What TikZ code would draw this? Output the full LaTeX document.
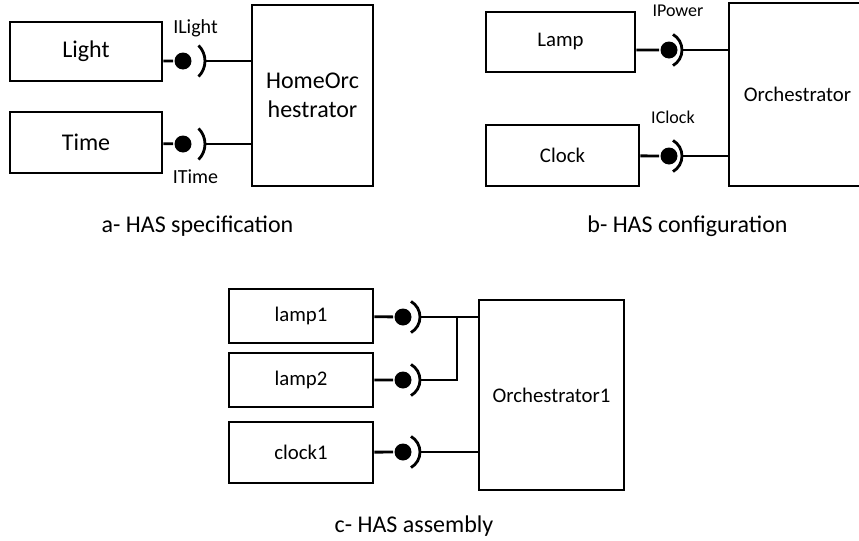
\documentclass[tikz,border=0pt]{standalone}
\usepackage{fontspec}
\setmainfont{Carlito}
\usetikzlibrary{positioning}

\begin{document}
\begin{tikzpicture}[x=0.5pt,y=-0.5pt,line width=1.4pt,
    comp/.style={draw,rectangle,inner sep=0pt,align=center},
    big/.style={font=\fontsize{12}{14.5}\selectfont},
    small/.style={font=\fontsize{10.4}{12.5}\selectfont},
    ball/.style={circle,fill=black,draw=none,minimum size=8.5pt,inner sep=0pt},
    iflabel/.style={inner sep=0pt},
    caption/.style={inner sep=0pt,anchor=base,font=\fontsize{12}{14}\selectfont}]
  \useasboundingbox (0,0) rectangle (859,541);

  % a- specification
  \node[comp,big,minimum width=76pt,minimum height=29.5pt] (light) at (86,51.5) {Light};
  \node[comp,big,minimum width=76pt,minimum height=30.5pt] (time) at (86,142.5) {Time};
  \node[comp,big,minimum width=60.5pt,minimum height=90.5pt] (home) at (312.5,95.5) {HomeOrc\\hestrator};
  \node[ball] (bl) at (183,61) {};
  \node[ball] (bt) at (183,144) {};
  \coordinate (sl) at (205,61);
  \coordinate (st) at (205,144);
  \node[iflabel,font=\fontsize{10}{12}\selectfont] (ilight) at (195.5,28) {ILight};
  \node[iflabel,font=\fontsize{10}{12}\selectfont] (itime) at (195.5,177) {ITime};
  \draw (light.east |- bl) -- (bl) (time) -- (bt);
  \draw (sl) -- (home.west |- sl) (st) -- (home.west |- st);
  \foreach \s in {sl,st}
    \draw (\s) arc[start angle=0,end angle=45,radius=22] (\s) arc[start angle=0,end angle=-45,radius=22];
  \node[caption] (capa) at (197.5,232) {a- HAS specification};

  % b- configuration
  \node[comp,small,minimum width=74.5pt,minimum height=30pt] (lamp) at (560.5,42) {Lamp};
  \node[comp,small,minimum width=76.5pt,minimum height=30.5pt] (clock) at (562.5,155.5) {Clock};
  \node[comp,small,minimum width=68.5pt,minimum height=91.5pt] (orch) at (797.5,94.5) {Orchestrator};
  \node[ball] (bp) at (669,50) {};
  \node[ball] (bc) at (669,156) {};
  \coordinate (sp) at (682,50);
  \coordinate (sc) at (682,156);
  \node[iflabel,font=\fontsize{9}{11}\selectfont] (ipower) at (678,11) {IPower};
  \node[iflabel,font=\fontsize{9}{11}\selectfont] (iclock) at (673,117.5) {IClock};
  \draw (lamp.east |- bp) -- (bp) (clock) -- (bc);
  \draw (sp) -- (orch.west |- sp) (sc) -- (orch.west |- sc);
  \foreach \s in {sp,sc}
    \draw (\s) arc[start angle=0,end angle=60,radius=18] (\s) arc[start angle=0,end angle=-60,radius=18];
  \node[caption] (capb) at (687.5,232) {b- HAS configuration};

  % c- assembly
  \node[comp,small,minimum width=72pt,minimum height=27pt] (lamp1) at (301,316) {lamp1};
  \node[comp,small,minimum width=72pt,minimum height=27pt] (lamp2) at (301,380) {lamp2};
  \node[comp,small,minimum width=72pt,minimum height=30.5pt] (clock1) at (301,452.5) {clock1};
  \node[comp,small,minimum width=72.5pt,minimum height=95pt] (orch1) at (551.5,395) {Orchestrator1};
  \node[ball] (b1) at (403,317) {};
  \node[ball] (b2) at (403,380) {};
  \node[ball] (b3) at (403,452) {};
  \coordinate (s1) at (420,317);
  \coordinate (s2) at (420,380);
  \coordinate (s3) at (420,452);
  \coordinate (j) at (457,317);
  \draw (lamp1) -- (b1) (lamp2) -- (b2) (clock1) -- (b3);
  \draw (s1) -- (orch1.west |- s1) (s2) -| (j) (s3) -- (orch1.west |- s3);
  \foreach \s in {s1,s2,s3}
    \draw (\s) arc[start angle=0,end angle=60,radius=18] (\s) arc[start angle=0,end angle=-60,radius=18];
  \node[caption] (capc) at (414,532) {c- HAS assembly};
\end{tikzpicture}
\end{document}
